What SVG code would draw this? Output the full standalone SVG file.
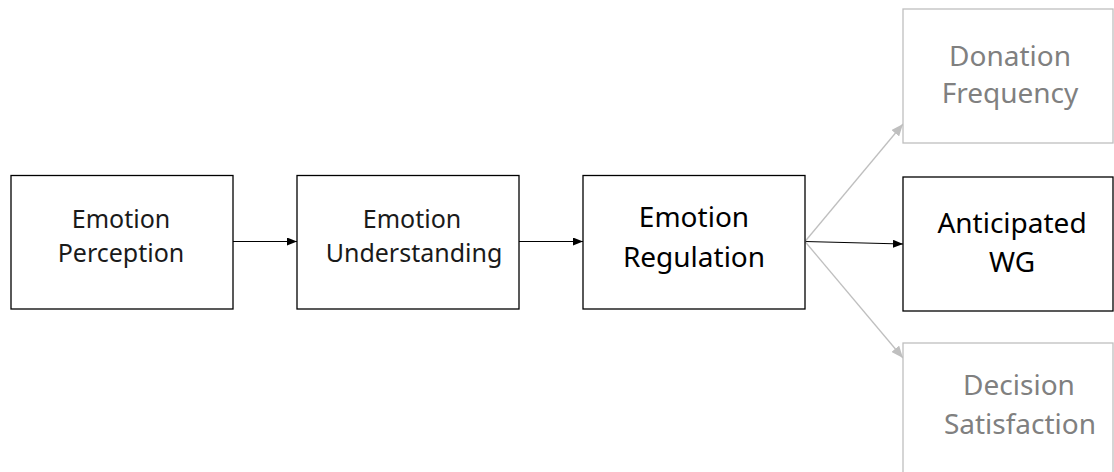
<svg xmlns="http://www.w3.org/2000/svg" width="1114" height="472" viewBox="0 0 1114 472">
<style>
.box{fill:#fff;stroke:#000;stroke-width:1.3}
.gbox{fill:#fff;stroke:#bfbfbf;stroke-width:1.3}
.t{font-family:"Noto Sans","Open Sans",sans-serif;font-size:25px;fill:#1a1a1a;text-anchor:middle}
.tl{font-family:"Noto Sans","Open Sans",sans-serif;font-size:28px;fill:#000;text-anchor:middle}
.tg{font-family:"Noto Sans","Open Sans",sans-serif;font-size:28px;fill:#808080;text-anchor:middle}
.c{fill:none;stroke:#000;stroke-width:1.2}
.cg{fill:none;stroke:#bfbfbf;stroke-width:1.3}
</style>
<defs>
<marker id="ab" markerWidth="10" markerHeight="8" refX="10" refY="4" orient="auto" markerUnits="userSpaceOnUse"><path d="M0,0 L10,4 L0,8 Z" fill="#000"/></marker>
<marker id="ag" markerWidth="12" markerHeight="10" refX="12" refY="5" orient="auto" markerUnits="userSpaceOnUse"><path d="M0,0 L12,5 L0,10 Z" fill="#bfbfbf"/></marker>
</defs>
<g id="connectors">
<line class="c" x1="233" y1="241.5" x2="297" y2="241.5" marker-end="url(#ab)"/>
<line class="c" x1="519" y1="241.5" x2="583" y2="241.5" marker-end="url(#ab)"/>
<line class="c" x1="805" y1="241.5" x2="903" y2="244" marker-end="url(#ab)"/>
<line class="cg" x1="805" y1="241.5" x2="903" y2="124" marker-end="url(#ag)"/>
<line class="cg" x1="805" y1="241.5" x2="903" y2="358" marker-end="url(#ag)"/>
</g>
<g id="perception">
<rect class="box" x="11" y="175.5" width="222" height="133.5"/>
<text class="t" x="121" y="228">Emotion</text>
<text class="t" x="121" y="262">Perception</text>
</g>
<g id="understanding">
<rect class="box" x="297" y="175.5" width="222" height="133.5"/>
<text class="t" x="412" y="228">Emotion</text>
<text class="t" x="414" y="262">Understanding</text>
</g>
<g id="regulation">
<rect class="box" x="583" y="175.5" width="222" height="133.5"/>
<text class="tl" x="694" y="227">Emotion</text>
<text class="tl" x="694" y="267">Regulation</text>
</g>
<g id="anticipated">
<rect class="box" x="903" y="177" width="210" height="134"/>
<text class="tl" x="1012" y="233">Anticipated</text>
<text class="tl" x="1012" y="272">WG</text>
</g>
<g id="donation">
<rect class="gbox" x="903" y="9" width="210" height="134"/>
<text class="tg" x="1010" y="66" font-size="26">Donation</text>
<text class="tg" x="1010" y="103" font-size="26">Frequency</text>
</g>
<g id="decision">
<rect class="gbox" x="903" y="343" width="210" height="134"/>
<text class="tg" x="1019" y="395">Decision</text>
<text class="tg" x="1020" y="434">Satisfaction</text>
</g>
</svg>
